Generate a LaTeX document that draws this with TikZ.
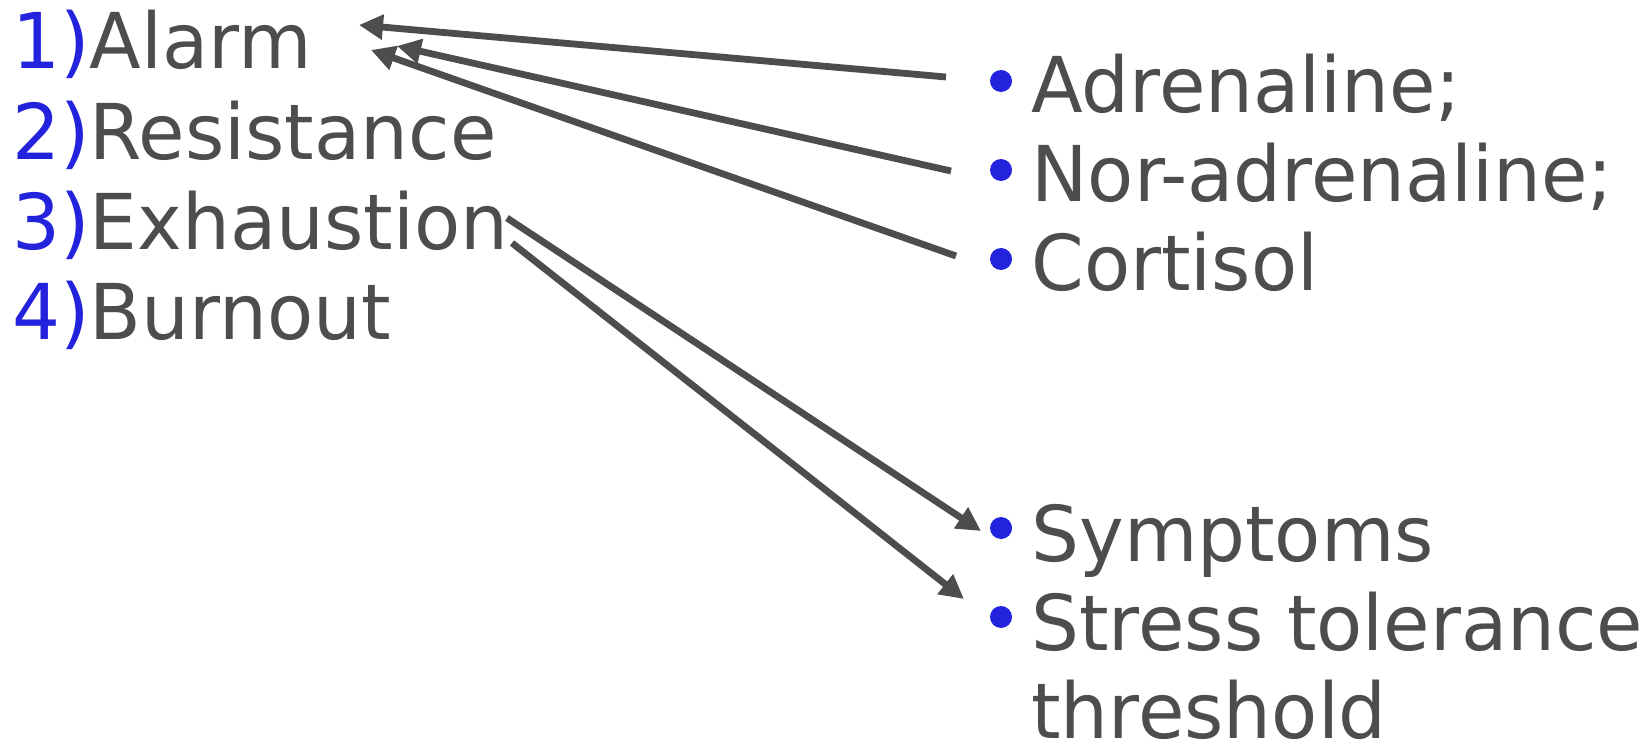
\documentclass[tikz,border=0pt]{standalone}
\usepackage{fontspec}
\setmainfont{DejaVu Sans}[FakeStretch=0.98]
\usetikzlibrary{arrows.meta}
\definecolor{txtgray}{HTML}{4D4D4D}
\definecolor{numblue}{HTML}{2323DD}
\tikzset{
  item/.style={anchor=base west, inner sep=0pt, text=txtgray, font=\fontsize{38.5pt}{45pt}\selectfont},
  dot/.style={circle, fill=numblue, minimum size=11pt, inner sep=0pt},
  link/.style={draw=txtgray, line width=3.4pt, -{Triangle[length=12pt,width=12pt]}}
}
\newcommand{\num}[1]{\textcolor{numblue}{#1)}}
\begin{document}
\begin{tikzpicture}[x=0.5pt, y=-0.5pt]
  \useasboundingbox (0,0) rectangle (1644,743);

  % stages
  \node[item] (alarm) at (12,69)  {\num{1}Alarm};
  \node[item] (resis) at (12,160) {\num{2}Resistance};
  \node[item] (exh)   at (12,250) {\num{3}Exhaustion};
  \node[item] (burn)  at (12,339) {\num{4}Burnout};

  % hormones
  \node[dot] (b1) at (1001,81) {};
  \node[item] (adr) at (1031,113) {Adrenaline;};
  \node[dot] (b2) at (1001,170) {};
  \node[item] (nor) at (1031,202) {Nor-adrenaline;};
  \node[dot] (b3) at (1001,259) {};
  \node[item] (cort) at (1031,291) {Cortisol};

  % consequences
  \node[dot] (b4) at (1001,528) {};
  \node[item] (symp) at (1031,561) {Symptoms};
  \node[dot] (b5) at (1001,617) {};
  \node[item] (stress) at (1031,650) {Stress tolerance};
  \node[item] (thr) at (1031,738) {threshold};

  % connector ends
  \coordinate (t1) at (946,77);
  \coordinate (h1) at (359,25);
  \coordinate (t2) at (951,171);
  \coordinate (h2) at (397,46);
  \coordinate (t3) at (956,256);
  \coordinate (h3) at (371,50);
  \coordinate (t4) at (507,218);
  \coordinate (h4) at (981,531);
  \coordinate (t5) at (512,243);
  \coordinate (h5) at (964,599);

  \draw[link] (t1) -- (h1);
  \draw[link] (t2) -- (h2);
  \draw[link] (t3) -- (h3);
  \draw[link] (t4) -- (h4);
  \draw[link] (t5) -- (h5);
\end{tikzpicture}
\end{document}
